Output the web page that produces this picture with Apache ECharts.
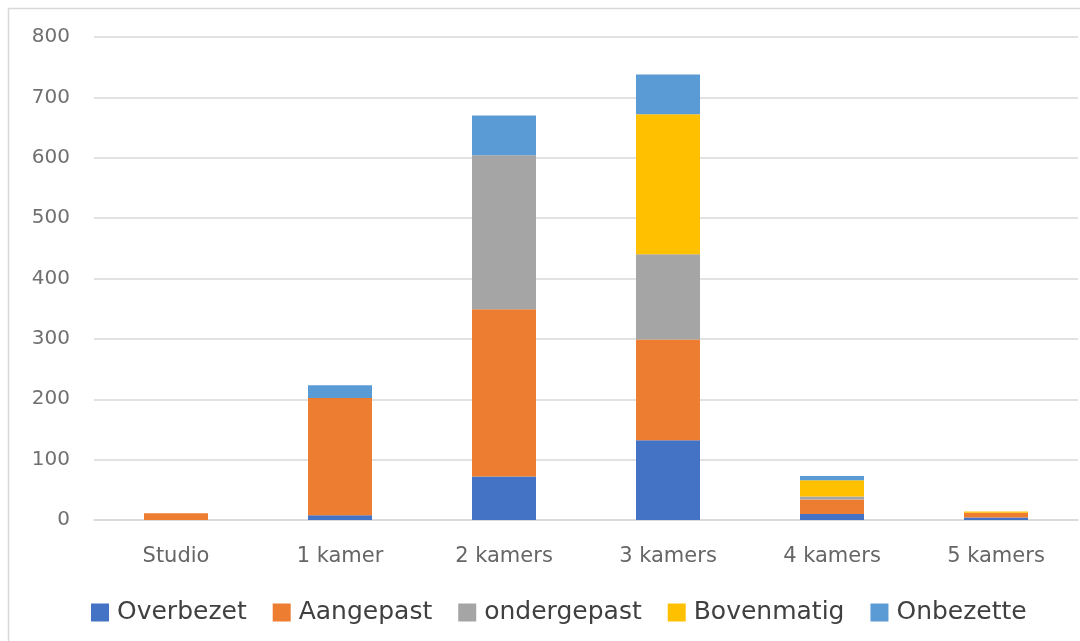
<!DOCTYPE html>
<html>
<head>
<meta charset="utf-8">
<script src="https://cdn.jsdelivr.net/npm/echarts@6/dist/echarts.min.js"></script>
<style>
  html, body { margin: 0; padding: 0; background: #fff; }
  #chart { width: 1080px; height: 641px; }
</style>
</head>
<body>
<div id="chart"></div>
<script>
// Woningtypes (aantal kamers)
const categories = ['Studio', '1 kamer', '2 kamers', '3 kamers', '4 kamers', '5 kamers'];

// Bezettingsgraad per woningtype
const overbezet   = [0, 8, 72, 132, 10, 4];
const aangepast   = [11, 194, 277, 167, 24, 8];
const ondergepast = [0, 0, 255, 141, 5, 0];
const bovenmatig  = [0, 0, 0, 232, 27, 2];
const onbezette   = [0, 21, 66, 66, 7, 0];

const yTicks = { min: 0, max: 800, interval: 100 };

const seriesDefs = [
  { name: 'Overbezet',   data: overbezet,   color: '#4472C4' },
  { name: 'Aangepast',   data: aangepast,   color: '#ED7D31' },
  { name: 'ondergepast', data: ondergepast, color: '#A5A5A5' },
  { name: 'Bovenmatig',  data: bovenmatig,  color: '#FFC000' },
  { name: 'Onbezette',   data: onbezette,   color: '#5B9BD5' }
];

const chart = echarts.init(document.getElementById('chart'), null, { renderer: 'canvas' });

chart.setOption({
  backgroundColor: '#ffffff',
  animation: false,
  textStyle: { fontFamily: 'DejaVu Sans' },
  graphic: [{
    type: 'rect',
    shape: { x: 8.5, y: 8.5, width: 1200, height: 800 },
    style: { fill: 'none', stroke: '#d9d9d9', lineWidth: 1.5 },
    silent: true
  }],
  grid: { left: 94, right: 2, top: 37, bottom: 121, containLabel: false },
  legend: {
    left: 86,
    top: 595,
    itemWidth: 18,
    itemHeight: 18,
    itemGap: 26,
    icon: 'rect',
    textStyle: { color: '#404040', fontSize: 25, fontFamily: 'DejaVu Sans', padding: [0, 0, 0, 3] },
    data: seriesDefs.map(s => s.name)
  },
  xAxis: {
    type: 'category',
    data: categories,
    axisLine: { lineStyle: { color: '#d9d9d9', width: 1.5 } },
    axisTick: { show: false },
    axisLabel: { color: '#666666', fontSize: 21, margin: 26 }
  },
  yAxis: {
    type: 'value',
    min: yTicks.min,
    max: yTicks.max,
    interval: yTicks.interval,
    axisLine: { show: false },
    axisTick: { show: false },
    splitLine: { lineStyle: { color: '#d9d9d9', width: 1.5 } },
    axisLabel: { color: '#707070', fontSize: 20, margin: 24 }
  },
  series: seriesDefs.map(s => ({
    name: s.name,
    type: 'bar',
    stack: 'totaal',
    barWidth: 64,
    data: s.data,
    itemStyle: { color: s.color }
  }))
});
</script>
</body>
</html>
